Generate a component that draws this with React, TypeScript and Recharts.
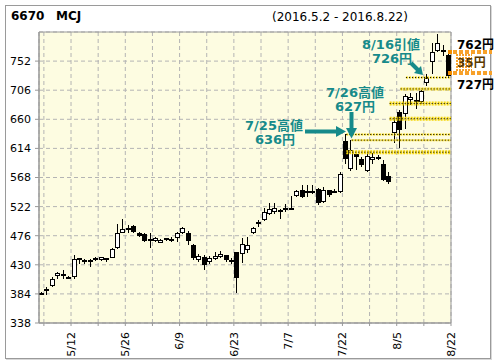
import { ComposedChart, Bar, XAxis, YAxis, CartesianGrid, ReferenceLine, ReferenceArea } from "recharts";

const dates = [
  "5/2", "5/6", "5/9", "5/10", "5/11", "5/12", "5/13", "5/16", "5/17", "5/18",
  "5/19", "5/20", "5/23", "5/24", "5/25", "5/26", "5/27", "5/30", "5/31", "6/1",
  "6/2", "6/3", "6/6", "6/7", "6/8", "6/9", "6/10", "6/13", "6/14", "6/15",
  "6/16", "6/17", "6/20", "6/21", "6/22", "6/23", "6/24", "6/27", "6/28", "6/29",
  "6/30", "7/1", "7/4", "7/5", "7/6", "7/7", "7/8", "7/11", "7/12", "7/13",
  "7/14", "7/15", "7/19", "7/20", "7/21", "7/22", "7/25", "7/26", "7/27", "7/28",
  "7/29", "8/1", "8/2", "8/3", "8/4", "8/5", "8/8", "8/9", "8/10", "8/12",
  "8/15", "8/16", "8/17", "8/18", "8/19", "8/22",
];
const opens = [
  386, 390, 397, 412, 415, 411, 411, 440, 437, 437,
  441, 437, 440, 441, 457, 481, 487, 492, 481, 478,
  471, 467, 465, 472, 470, 472, 480, 481, 461, 437,
  442, 434, 439, 443, 445, 437, 451, 447, 453, 480,
  498, 501, 511, 513, 515, 519, 519, 539, 548, 547,
  545, 550, 530, 548, 546, 545, 625, 582, 605, 598,
  579, 596, 600, 590, 570, 638, 671, 668, 690, 689,
  688, 717, 750, 768, 766, 762,
];
const highs = [
  387, 395, 410, 419, 421, 412, 446, 441, 439, 439,
  443, 443, 441, 456, 495, 503, 493, 493, 482, 480,
  481, 474, 470, 473, 474, 482, 490, 483, 463, 447,
  446, 444, 451, 452, 446, 440, 451, 472, 474, 489,
  501, 519, 528, 528, 518, 526, 539, 548, 556, 556,
  556, 551, 553, 549, 550, 576, 636, 627, 607, 600,
  606, 606, 604, 595, 577, 663, 675, 700, 702, 702,
  706, 731, 781, 795, 777, 764,
];
const lows = [
  383, 382, 395, 408, 408, 408, 408, 431, 432, 426,
  436, 436, 435, 440, 455, 480, 481, 481, 474, 466,
  456, 466, 464, 468, 466, 466, 479, 461, 437, 435,
  421, 431, 437, 440, 434, 431, 385, 433, 448, 478,
  490, 500, 509, 511, 503, 514, 517, 537, 535, 537,
  542, 525, 527, 537, 544, 544, 590, 578, 580, 584,
  576, 590, 596, 562, 558, 622, 614, 645, 683, 677,
  684, 712, 731, 766, 760, 727,
];
const closes = [
  384, 391, 407, 417, 416, 409, 439, 437, 435, 434,
  437, 442, 438, 455, 481, 487, 488, 482, 475, 468,
  469, 473, 469, 470, 471, 480, 488, 467, 440, 444,
  430, 441, 444, 447, 437, 435, 409, 463, 461, 488,
  494, 514, 518, 520, 516, 520, 520, 547, 537, 546,
  546, 527, 548, 540, 547, 574, 598, 612, 600, 588,
  602, 600, 597, 564, 561, 655, 643, 697, 696, 690,
  704, 726, 767, 780, 770, 729,
];

const yTicks = [338, 384, 430, 476, 522, 568, 614, 660, 706, 752];
const labelDates = ["5/12", "5/26", "6/9", "6/23", "7/7", "7/22", "8/5", "8/22"];

// horizontal guide levels and the day each one starts from
const guideLevels = [636, 627, 608, 661, 685, 708, 726];
const guideFrom = ["7/25", "7/26", "7/25", "8/4", "8/4", "8/8", "8/9"];
const guideWidth = [2, 2, 4, 4, 4, 3, 2];

const data = dates.map((d, i) => ({
  idx: i,
  date: d,
  open: opens[i],
  high: highs[i],
  low: lows[i],
  close: closes[i],
  range: [lows[i], highs[i]],
}));

const xTicks = dates.map((_, i) => i).filter((i) => i % 5 === 0).map((i) => i + 0.5);
const xMin = -0.4;
const xMax = 75.5;

const FONT = "'DejaVu Sans', 'Noto Sans CJK JP', sans-serif";
const TEAL = "#168a8a";
const ORANGE = "#f7a12a";

function Candle(props: any) {
  let { x, y, width, height } = props;
  const { open, close, high, low } = props.payload;
  if (height < 0) {
    y += height;
    height = -height;
  }
  const cx = Math.round(x + width / 2);
  const per = high === low ? 0 : height / (high - low);
  const py = (v: number) => y + (high - v) * per;
  const top = Math.round(py(Math.max(open, close)));
  const bot = Math.round(py(Math.min(open, close)));
  const up = close >= open;
  return (
    <g shapeRendering="crispEdges">
      <line x1={cx + 0.5} x2={cx + 0.5} y1={Math.round(y)} y2={Math.round(y + height)} stroke="#000" />
      <rect
        x={cx - 1.5}
        y={top + 0.5}
        width={4}
        height={Math.max(bot - top - 1, 1)}
        fill={up ? "#fff" : "#000"}
        stroke="#000"
      />
    </g>
  );
}

function XTick(props: any) {
  const { x, y, payload } = props;
  const i = Math.round(payload.value - 0.5);
  const label = labelDates.includes(dates[i]) ? dates[i] : "";
  if (!label) return <g />;
  return (
    <text
      x={x}
      y={y}
      transform={`rotate(-90 ${x} ${y})`}
      textAnchor="end"
      dy="0.35em"
      fontSize={11}
      fontFamily={FONT}
      fill="#000"
    >
      {label}
    </text>
  );
}

function Overlay() {
  return (
    <svg
      width={496}
      height={364}
      style={{ position: "absolute", left: 0, top: 0, pointerEvents: "none" }}
    >
      <defs>
        <pattern id="hatch" width="3" height="3" patternUnits="userSpaceOnUse">
          <rect width="2" height="2" fill={ORANGE} />
        </pattern>
      </defs>
      <text x={11} y={20} fontFamily={FONT} fontSize={12} fontWeight="bold" fill="#000">6670</text>
      <text x={56} y={20} fontFamily={FONT} fontSize={12} fontWeight="bold" fill="#000">MCJ</text>
      <text x={272} y={21} fontFamily={FONT} fontSize={12} fill="#000">(2016.5.2 - 2016.8.22)</text>

      <g fontFamily={FONT} fontSize={13} fontWeight="bold" fill={TEAL} textAnchor="middle">
        <text x={274} y={130}>7/25高値</text>
        <text x={275} y={144}>636円</text>
        <text x={355} y={97}>7/26高値</text>
        <text x={355} y={111}>627円</text>
        <text x={391} y={49}>8/16引値</text>
        <text x={392} y={63}>726円</text>
      </g>

      <g fill={TEAL} stroke="none">
        <rect x={305} y={129.5} width={32} height={4} />
        <polygon points="336,126 346,131.5 336,137" />
        <rect x={349.5} y={112} width={4} height={17} />
        <polygon points="346,128 357,128 351.5,138.5" />
        <line x1={411} y1={63} x2={418} y2={70} stroke={TEAL} strokeWidth={4} />
        <polygon points="414,73 423,75 421,66" />
      </g>

      <rect x={455} y={54} width={17} height={17} fill="url(#hatch)" />
      <line x1={453} x2={492} y1={52} y2={52} stroke={ORANGE} strokeWidth={4} strokeDasharray="4 2" />
      <line x1={453} x2={492} y1={73} y2={73} stroke={ORANGE} strokeWidth={4} strokeDasharray="4 2" />
      <rect x={448} y={50} width={4} height={4} fill="#f08c00" />
      <rect x={448} y={71} width={4} height={4} fill="#f08c00" />
      <g fontFamily={FONT} fontSize={12} fontWeight="bold">
        <text x={457} y={49} fill="#000">762円</text>
        <text x={457} y={67} fill="#5a3a00">35円</text>
        <text x={457} y={89} fill="#000">727円</text>
      </g>
    </svg>
  );
}

export default function App() {
  return (
    <div style={{ position: "absolute", left: 0, top: 0, width: 496, height: 364, background: "#fff" }}>
      <div
        style={{
          position: "absolute",
          left: 5,
          top: 5,
          width: 484,
          height: 352,
          border: "1px solid #9a9a9a",
          boxShadow: "1px 1px 0 #d8d8d8",
        }}
      />
      <div style={{ position: "absolute", left: 0, top: 0 }}>
        <ComposedChart
          width={496}
          height={364}
          data={data}
          margin={{ top: 32, right: 45, bottom: 0, left: 0 }}
        >
          <CartesianGrid fill="#fdfce1" stroke="#b4b4b4" strokeDasharray="4 3" />
          <XAxis
            dataKey="idx"
            type="number"
            domain={[xMin, xMax]}
            ticks={xTicks}
            interval={0}
            allowDataOverflow
            height={41}
            tickSize={3}
            tickMargin={6}
            stroke="#999"
            tick={<XTick />}
          />
          <YAxis
            type="number"
            domain={[338, 798]}
            ticks={yTicks}
            interval={0}
            allowDataOverflow
            width={39}
            tickSize={4}
            tickMargin={4}
            stroke="#999"
            tick={{ fill: "#000", fontSize: 11, fontFamily: FONT }}
          />
          <ReferenceArea x1={xMin} x2={xMax} y1={338} y2={798} fill="none" stroke="#999" />
          {guideLevels.map((lv, k) => (
            <ReferenceLine
              key={"g" + k}
              segment={[
                { x: dates.indexOf(guideFrom[k]) + 0.2, y: lv },
                { x: xMax, y: lv },
              ]}
              stroke="#f5d60a"
              strokeWidth={guideWidth[k]}
              strokeDasharray="2 1"
            />
          ))}
          {guideLevels.map((lv, k) => (
            <ReferenceLine
              key={"d" + k}
              segment={[
                { x: dates.indexOf(guideFrom[k]) + 0.2, y: lv },
                { x: xMax, y: lv },
              ]}
              stroke="#000"
              strokeWidth={1}
              strokeDasharray="1 2"
            />
          ))}
          <Bar dataKey="range" barSize={5} shape={<Candle />} isAnimationActive={false} />
        </ComposedChart>
      </div>
      <Overlay />
    </div>
  );
}
